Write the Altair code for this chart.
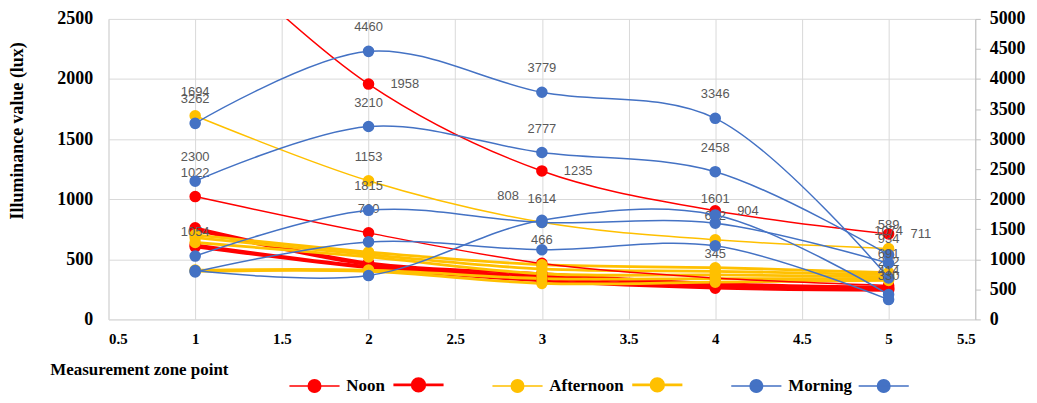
import altair as alt
import pandas as pd

# ---------------- data ----------------
zones = [1, 2, 3, 4, 5]
x_ticks = [0.5, 1, 1.5, 2, 2.5, 3, 3.5, 4, 4.5, 5, 5.5]
left_ticks = [0, 500, 1000, 1500, 2000, 2500]
right_ticks = [0, 500, 1000, 1500, 2000, 2500, 3000, 3500, 4000, 4500, 5000]

# Noon series (primary axis)
noon_a = [3200, 1958, 1235, 904, 711]
noon_b = [1022, 720, 466, 345, 282]
noon_c = [762, 470, 380, 300, 268]
noon_d = [745, 455, 360, 285, 258]
noon_e = [620, 440, 340, 270, 250]
noon_f = [604, 430, 320, 260, 242]

# Afternoon series (primary axis)
aft_a = [1694, 1153, 808, 662, 589]
aft_b = [704, 560, 455, 430, 390]
aft_c = [680, 540, 420, 400, 372]
aft_d = [640, 520, 380, 370, 355]
aft_e = [410, 410, 340, 340, 340]
aft_f = [400, 400, 300, 310, 325]

# Morning series (secondary axis)
morn_a = [3262, 4460, 3779, 3346, 691]
morn_b = [2300, 3210, 2777, 2458, 1074]
morn_c = [1054, 1815, 1614, 1601, 934]
morn_d = [812, 730, 1650, 1738, 414]
morn_e = [790, 1290, 1159, 1225, 330]

groups = ["Noon", "Noon (2)", "Afternoon", "Afternoon (2)", "Morning", "Morning (2)"]
group_colors = ["#FF0000", "#FF0000", "#FFC000", "#FFC000", "#4472C4", "#4472C4"]
group_widths = [1.5, 2.8, 1.5, 2.8, 1.5, 1.5]

left_series = [
    ("noon_a", "Noon", noon_a), ("noon_b", "Noon", noon_b),
    ("noon_c", "Noon (2)", noon_c), ("noon_d", "Noon (2)", noon_d),
    ("noon_e", "Noon (2)", noon_e), ("noon_f", "Noon (2)", noon_f),
    ("aft_a", "Afternoon", aft_a),
    ("aft_b", "Afternoon (2)", aft_b), ("aft_c", "Afternoon (2)", aft_c),
    ("aft_d", "Afternoon (2)", aft_d), ("aft_e", "Afternoon (2)", aft_e),
    ("aft_f", "Afternoon (2)", aft_f),
]
right_series = [
    ("morn_a", "Morning", morn_a), ("morn_b", "Morning", morn_b),
    ("morn_c", "Morning", morn_c), ("morn_d", "Morning (2)", morn_d),
    ("morn_e", "Morning (2)", morn_e),
]

# which points carry a data label
left_above_labels = {"aft_a": [1, 2, 4, 5], "noon_b": [1, 2, 3, 4, 5]}
left_upleft_labels = {"aft_a": [3]}
left_right_labels = {"noon_a": [2, 3, 4, 5]}
right_above_labels = {"morn_a": [1, 2, 3, 4, 5], "morn_b": [1, 2, 3, 4, 5],
                      "morn_c": [1, 2, 3, 4, 5], "morn_d": [5], "morn_e": [5]}


def build(series):
    rows = []
    for name, grp, vals in series:
        for z, v in zip(zones, vals):
            rows.append({"series": name, "group": grp, "zone": z, "value": v})
    return pd.DataFrame(rows)


def labels(series, picks):
    lookup = {name: vals for name, _, vals in series}
    rows = []
    for name, zs in picks.items():
        for z in zs:
            v = lookup[name][zones.index(z)]
            rows.append({"zone": z, "value": v, "label": str(v)})
    return pd.DataFrame(rows)


df_left = build(left_series)
df_right = build(right_series)

# ---------------- encodings ----------------
SERIF = "Liberation Serif"
BLANK = "\u2800\u2800\u2800"
legend = alt.Legend(
    title=None, orient="none", legendX=197, legendY=357, direction="horizontal",
    symbolType="M-2.8,0L2.8,0M-0.7,0A0.7,0.7,0,1,1,0.7,0A0.7,0.7,0,1,1,-0.7,0Z",
    symbolSize=324, labelFont=SERIF, labelFontSize=17, labelFontWeight="bold",
    labelColor="black", labelOffset=22, columnPadding=2, padding=0,
    labelExpr="indexof(datum.label, '(') >= 0 ? '" + BLANK + "' : datum.label",
)
stroke_enc = alt.Stroke("group:N", scale=alt.Scale(domain=groups, range=group_colors), legend=legend)
fill_enc = alt.Fill("group:N", scale=alt.Scale(domain=groups, range=group_colors), legend=legend)
width_enc = alt.StrokeWidth("group:N", scale=alt.Scale(type="ordinal", domain=groups, range=group_widths),
                            legend=legend)

x_enc = alt.X(
    "zone:Q",
    scale=alt.Scale(domain=[0.5, 5.5], nice=False, zero=False),
    axis=alt.Axis(values=x_ticks, format="~g", grid=True, ticks=False, labelPadding=12,
                  labelFontSize=15, title="Measurement zone  point", titleFontSize=17,
                  titleX=-59, titleY=42, titleAlign="left", titleBaseline="top",
                  domainColor="#d9d9d9"),
)
y_left = alt.Y(
    "value:Q",
    scale=alt.Scale(domain=[0, 2500], nice=False),
    axis=alt.Axis(values=left_ticks, format="d", grid=True, ticks=False, labelPadding=16,
                  labelFontSize=18, title="Illuminance value (lux)", titleFontSize=18,
                  titleX=-91, titleY=112, titleAlign="center", titleBaseline="middle",
                  domainColor="#d9d9d9"),
)
y_right = alt.Y(
    "value:Q",
    scale=alt.Scale(domain=[0, 5000], nice=False),
    axis=alt.Axis(orient="right", values=right_ticks, format="d", grid=False, ticks=True, tickSize=5,
                  tickColor="#bfbfbf", domainColor="#bfbfbf", labelPadding=9,
                  labelFontSize=18, title=None),
)

LBL = dict(font="Liberation Sans", fontSize=13, color="#595959")


def lines(df, y, grp):
    return alt.Chart(df).transform_filter(alt.datum.group == grp).mark_line(
        interpolate="catmull-rom", clip=True).encode(
        x=x_enc, y=y, stroke=stroke_enc, strokeWidth=width_enc, detail="series:N")


def points(df, y, grps):
    return alt.Chart(df).transform_filter(alt.FieldOneOfPredicate(field="group", oneOf=grps)).mark_point(
        filled=True, size=135, opacity=1, strokeWidth=0, clip=True).encode(
        x=x_enc, y=y, fill=fill_enc, detail="series:N")


left_lab_above = alt.Chart(labels(left_series, left_above_labels)).mark_text(dy=-24, **LBL).encode(
    x=x_enc, y=y_left, text="label:N")
left_lab_upleft = alt.Chart(labels(left_series, left_upleft_labels)).mark_text(dx=-34, dy=-26, **LBL).encode(
    x=x_enc, y=y_left, text="label:N")
left_lab_right = alt.Chart(labels(left_series, left_right_labels)).mark_text(dx=22, align="left", **LBL).encode(
    x=x_enc, y=y_left, text="label:N")

left_layer = alt.layer(
    lines(df_left, y_left, "Noon (2)"),
    lines(df_left, y_left, "Afternoon (2)"),
    lines(df_left, y_left, "Noon"),
    lines(df_left, y_left, "Afternoon"),
    points(df_left, y_left, ["Noon", "Noon (2)"]),
    points(df_left, y_left, ["Afternoon", "Afternoon (2)"]),
    left_lab_above, left_lab_upleft, left_lab_right,
)

right_lab_above = alt.Chart(labels(right_series, right_above_labels)).mark_text(dy=-24, **LBL).encode(
    x=x_enc, y=y_right, text="label:N")
right_layer = alt.layer(
    lines(df_right, y_right, "Morning"),
    lines(df_right, y_right, "Morning (2)"),
    points(df_right, y_right, ["Morning", "Morning (2)"]),
    right_lab_above,
)

chart = alt.layer(left_layer, right_layer).resolve_scale(y="independent").properties(
    width=871, height=302,
    autosize=alt.AutoSizeParams(type="none"),
    padding={"left": 101, "top": 10, "right": 54, "bottom": 75},
).configure_view(stroke=None).configure_axis(
    labelFont=SERIF, labelFontWeight="bold", labelColor="black",
    titleFont=SERIF, titleFontWeight="bold", titleColor="black",
    gridColor="#d9d9d9", gridWidth=1,
)

chart.save("out.html", embed_options={"renderer": "svg", "actions": False})
